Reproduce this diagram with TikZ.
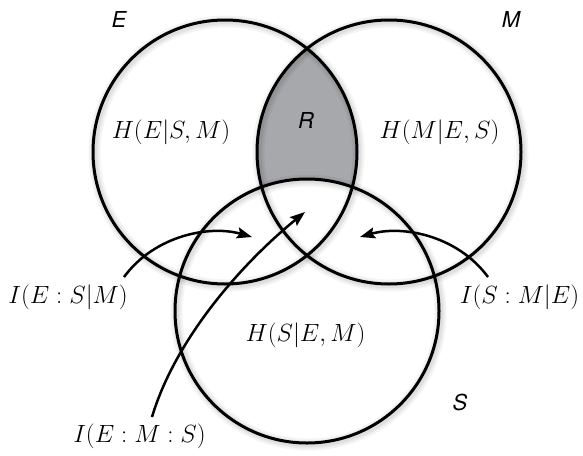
\documentclass[tikz,border=0pt]{standalone}
\usepackage{fontspec}
\newfontfamily\labelfont{TeX Gyre Heros}
\usetikzlibrary{arrows.meta}
\definecolor{rgray}{RGB}{167,168,172}
\begin{document}
\begin{tikzpicture}[x=1pt,y=-1pt,
  circ/.style={line width=3pt},
  glow/.style={line width=#1, draw=black, draw opacity=0.045},
  conn/.style={line width=2.5pt, -{Stealth[length=15pt,width=11pt,inset=2.5pt]}},
  mlab/.style={font=\fontsize{26.6}{30}\selectfont, inner sep=0pt},
  slab/.style={font=\labelfont\itshape\fontsize{22}{25}\selectfont, inner sep=0pt}]
\useasboundingbox (0,0) rectangle (583,455);
\coordinate (cE) at (225,152);
\coordinate (cM) at (389,152);
\coordinate (cS) at (307,311);
% shaded region R
\begin{scope}
  \clip (cE) circle (132pt);
  \clip (cM) circle (132pt);
  \fill[rgray] (0,0) rectangle (583,455);
  \fill[white] (cS) circle (132pt);
\end{scope}
% soft shadows
\foreach \c in {cE,cM,cS}{
  \draw[glow=12pt] ([shift={(1.5,1.5)}]\c) circle (132pt);
  \draw[glow=8pt] ([shift={(1.5,1.5)}]\c) circle (132pt);
  \draw[glow=5pt] ([shift={(1.5,1.5)}]\c) circle (132pt);
}
% circles
\draw[circ] (cE) circle (132pt);
\draw[circ] (cM) circle (132pt);
\draw[circ] (cS) circle (132pt);
% set labels
\node[slab] (lE) at (119,19.5) {E};
\node[slab] (lM) at (511,19) {M};
\node[slab] (lR) at (306,120) {R};
\node[slab] (lS) at (460,402) {S};
% region labels
\node[mlab] (hE) at (171,132.5) {$H(E|S,M)$};
\node[mlab] (hM) at (439.5,132.5) {$H(M|E,S)$};
\node[mlab] (hS) at (305.5,335) {$H(S|E,M)$};
\node[mlab] (iES) at (68,297) {$I(E:S|M)$};
\node[mlab] (iSM) at (519.5,297.5) {$I(S:M|E)$};
\node[mlab] (iEMS) at (139.5,436.5) {$I(E:M:S)$};
% arrows
\coordinate (a1s) at (124,277);
\coordinate (a1e) at (252,237);
\coordinate (a2s) at (152,417);
\coordinate (a2e) at (305,212);
\coordinate (a3s) at (488,277);
\coordinate (a3e) at (360,237);
\draw[conn] (a1s) .. controls (155,235) and (210,225) .. (a1e);
\draw[conn] (a2s) .. controls (175,340) and (240,265) .. (a2e);
\draw[conn] (a3s) .. controls (457,235) and (402,225) .. (a3e);
\end{tikzpicture}
\end{document}
